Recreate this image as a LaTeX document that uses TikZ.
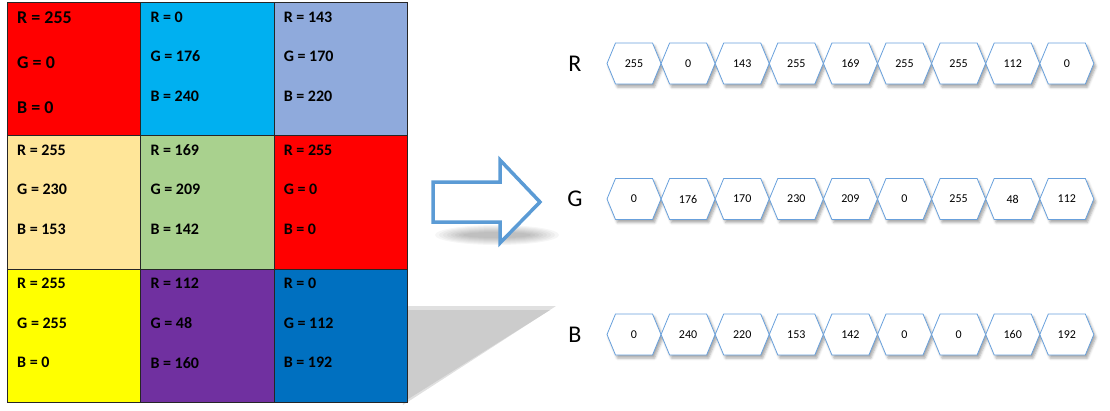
\documentclass[tikz,border=0pt]{standalone}
\usepackage{fontspec}
\setmainfont{Carlito}
\usepackage{tikz}
\usepackage{xcolor}
\usetikzlibrary{calc,
	positioning,
	shapes,
	shapes.symbols,
	shadows.blur}

\definecolor{arrowblue}{RGB}{91,155,213}
\definecolor{hexblue}{RGB}{104,160,220}

\tikzset{
	cell/.style={draw=black!85, line width=1pt, minimum width=133.3pt, minimum height=133.3pt, inner sep=0pt, anchor=north west},
	val/.style={anchor=west, inner sep=0pt, font=\bfseries\fontsize{16}{18}\selectfont},
	bigval/.style={val, font=\bfseries\fontsize{18}{20}\selectfont},
	hexcell/.style={shape=signal, signal to=east and west, signal pointer angle=135, draw=hexblue, fill=white, line width=0.8pt,
		minimum width=54pt, minimum height=41pt, inner sep=0pt, font=\fontsize{12}{14}\selectfont,
		blur shadow={shadow xshift=2pt, shadow yshift=-3pt, shadow blur radius=2.5pt, shadow opacity=35}},
	chan/.style={inner sep=0pt, font=\fontsize{24}{28}\selectfont}
}

\begin{document}
\begin{tikzpicture}[x=1pt, y=-1pt]
	\useasboundingbox (0,0) rectangle (1110,410);
	% shadow behind the grid
	\fill[black!12] (398,306) -- (556,306) -- (403,405) -- cycle;
	\fill[black!20] (400,310) -- (550,310) -- (405,401) -- cycle;
	% first cell, larger text
	\definecolor{cellfill}{RGB}{255,0,0}
	\node[cell, fill=cellfill] (c11) at (7,2) {};
	\node[bigval] (r11) at ($(c11.north west)+(10,16)$) {R = 255};
	\node[bigval] (g11) at ($(c11.north west)+(10,61)$) {G = 0};
	\node[bigval] (b11) at ($(c11.north west)+(10,106)$) {B = 0};
	% other cells, filled with their own values
	\foreach \row/\col/\r/\g/\b in {1/2/0/176/240, 1/3/143/170/220,
		2/1/255/230/153, 2/2/169/209/142, 2/3/255/0/0,
		3/1/255/255/0, 3/2/112/48/160, 3/3/0/112/192} {
		\definecolor{cellfill}{RGB}{\r,\g,\b}
		\node[cell, fill=cellfill] (c\row\col) at ({7+133.3*(\col-1)}, {2+133.3*(\row-1)}) {};
		\node[val] (r\row\col) at ($(c\row\col.north west)+(10,15)$) {R = \r};
		\node[val] (g\row\col) at ($(c\row\col.north west)+(10,54.5)$) {G = \g};
		\node[val] (b\row\col) at ($(c\row\col.north west)+(10,94)$) {B = \b};
	}
	% block arrow with a soft shadow
	\foreach \k in {0,...,7}
		\fill[black, opacity=0.035] (497,235) ellipse [x radius={62pt-4pt*\k}, y radius={10pt-1pt*\k}];
	\draw[arrowblue, line width=3.5pt, fill=white, line join=miter] (433,182) -- (500,182) -- (500,160) -- (540,202) -- (500,243) -- (500,222) -- (433,222) -- cycle;
	% channel rows
	\foreach \ch/\y/\vals in {R/63.5/{255,0,143,255,169,255,255,112,0},
		G/199/{0,176,170,230,209,0,255,48,112},
		B/334.5/{0,240,220,153,142,0,0,160,192}} {
		\node[chan] (lab\ch) at (575,\y) {\ch};
		\foreach \v [count=\i from 0] in \vals
			\node[hexcell] (\ch\i) at ({634+54.1*\i},\y) {\v};
	}
\end{tikzpicture}
\end{document}
